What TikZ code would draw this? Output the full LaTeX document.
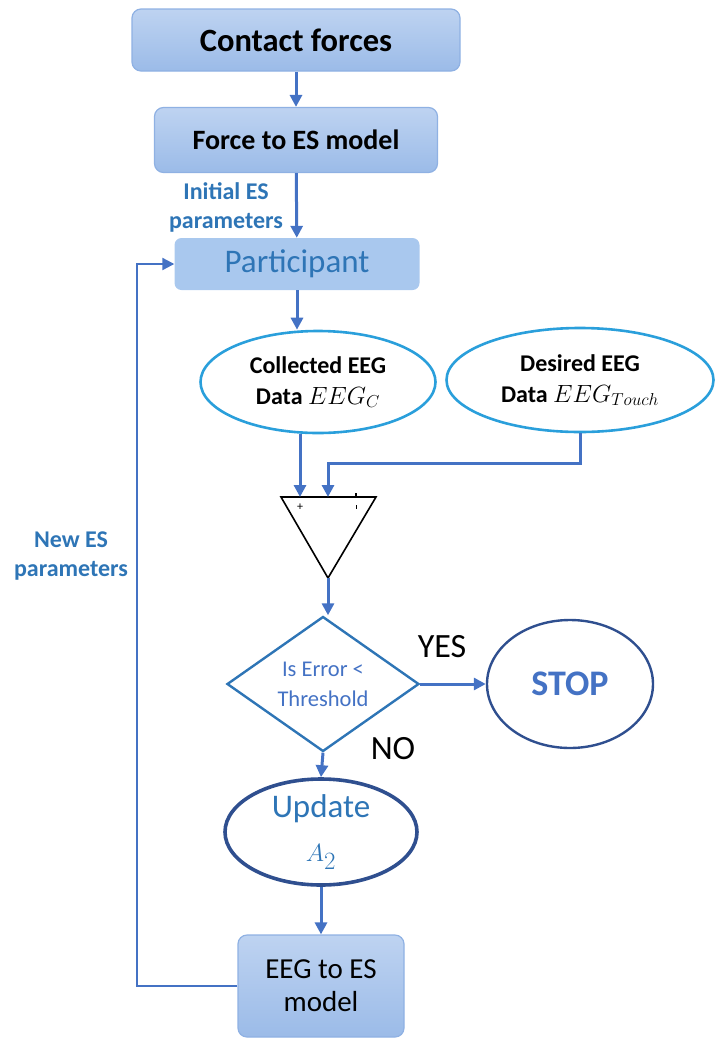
\documentclass[tikz,border=0pt]{standalone}
\usepackage{fontspec}
\setmainfont{Carlito}
\usepackage{tikz}
\usetikzlibrary{positioning,shapes.geometric,arrows.meta}
\definecolor{arrblue}{HTML}{4472C4}
\definecolor{txtblue}{HTML}{2E75B6}
\definecolor{boxtop}{HTML}{BED3F1}
\definecolor{boxbot}{HTML}{9BBBE8}
\definecolor{boxline}{HTML}{8FB1E3}
\definecolor{partfill}{HTML}{A9C8EE}
\definecolor{ellline}{HTML}{2A9FDB}
\definecolor{navy}{HTML}{2F4F8F}
\tikzset{
  bluebox/.style={rectangle, rounded corners=9pt, draw=boxline, line width=1.2pt, top color=boxtop, bottom color=boxbot, align=center, inner sep=0pt},
  partbox/.style={rectangle, rounded corners=7pt, fill=partfill, text=txtblue, align=center, inner sep=0pt},
  eegell/.style={ellipse, draw=ellline, line width=2.6pt, align=center, inner sep=0pt, font=\fontsize{24}{31}\selectfont\bfseries},
  arr/.style={arrblue, line width=3pt, -{Triangle[length=12pt,width=12pt]}},
  lbl/.style={text=txtblue, align=center, font=\fontsize{24}{29}\selectfont\bfseries}
}
\begin{document}
\begin{tikzpicture}[x=1pt,y=-1pt]
 \useasboundingbox (0,0) rectangle (728,1050);
 \node[bluebox, minimum width=328pt, minimum height=62pt, font=\fontsize{32.5}{36}\selectfont\bfseries] (contact) at (296,40) {Contact forces};
 \node[bluebox, minimum width=283pt, minimum height=65pt, font=\fontsize{28}{32}\selectfont\bfseries] (force) at (296,140) {Force to ES model};
 \node[lbl] (initlbl) at (226,207) {Initial ES\\parameters};
 \node[partbox, minimum width=245pt, minimum height=52pt, font=\fontsize{33}{36}\selectfont] (part) at (297,264) {Participant};
 \node[eegell, minimum width=235pt, minimum height=102pt] (coll) at (318,382) {Collected EEG\\Data $EEG_C$};
 \node[eegell, minimum width=267pt, minimum height=104pt] (des) at (580,380) {Desired EEG\\Data $EEG_{Touch}$};
 \coordinate (tl) at (281,497);
 \coordinate (tr) at (376,497);
 \coordinate (tb) at (328,578);
 \coordinate (inp) at (300,497);
 \coordinate (inm) at (328,497);
 \coordinate (bend) at (328,463);
 \draw[black, line width=1.6pt] (tl) -- (tr) -- (tb) -- cycle;
 \node[font=\fontsize{12}{12}\selectfont, inner sep=0pt] (plus) at (300,507) {+};
 \draw[black, line width=1.2pt] (356,493) -- (356,497);
 \draw[black, line width=0.8pt] (356,505) -- (356,509);
 \node[diamond, draw=txtblue, line width=2.4pt, minimum width=192pt, minimum height=135pt, inner sep=0pt, aspect=1.42, align=center, text=arrblue, font=\fontsize{22.5}{30}\selectfont] (err) at (323,684) {Is Error <\\Threshold};
 \node[font=\fontsize{34}{36}\selectfont] (yes) at (442,647) {YES};
 \node[ellipse, draw=navy, line width=2.4pt, minimum width=166pt, minimum height=128pt, inner sep=0pt, text=arrblue, font=\fontsize{36}{38}\selectfont\bfseries] (stop) at (570,684) {STOP};
 \node[font=\fontsize{34}{36}\selectfont] (no) at (393,749) {NO};
 \node[ellipse, draw=navy, line width=3.6pt, minimum width=192pt, minimum height=106pt, inner sep=0pt, align=center, text=txtblue, font=\fontsize{33}{44}\selectfont] (upd) at (321,832) {Update\\$A_2$};
 \node[bluebox, minimum width=166pt, minimum height=102pt, font=\fontsize{29}{33}\selectfont] (eegbox) at (321,986) {EEG to ES\\model};
 \node[lbl] (newlbl) at (71,556) {New ES\\parameters};
 \coordinate (loop) at (137,986);
 \draw[arr] (contact) -- (force);
 \draw[arr] (force) -- (part);
 \draw[arr] (part.south) -- (part.south |- coll.north);
 \draw[arr] (inp |- coll.south) -- (inp);
 \draw[arr] (des.south) |- (bend) -- (inm);
 \draw[arr] (tb) -- (tb |- err.north);
 \draw[arr] (err.east) -- (stop.west);
 \draw[arr] (err.south) -- (upd.north);
 \draw[arr] (upd.south) -- (eegbox.north);
 \draw[arr, line width=2.2pt] (eegbox.west) -- (loop) |- (part.west);
\end{tikzpicture}
\end{document}
